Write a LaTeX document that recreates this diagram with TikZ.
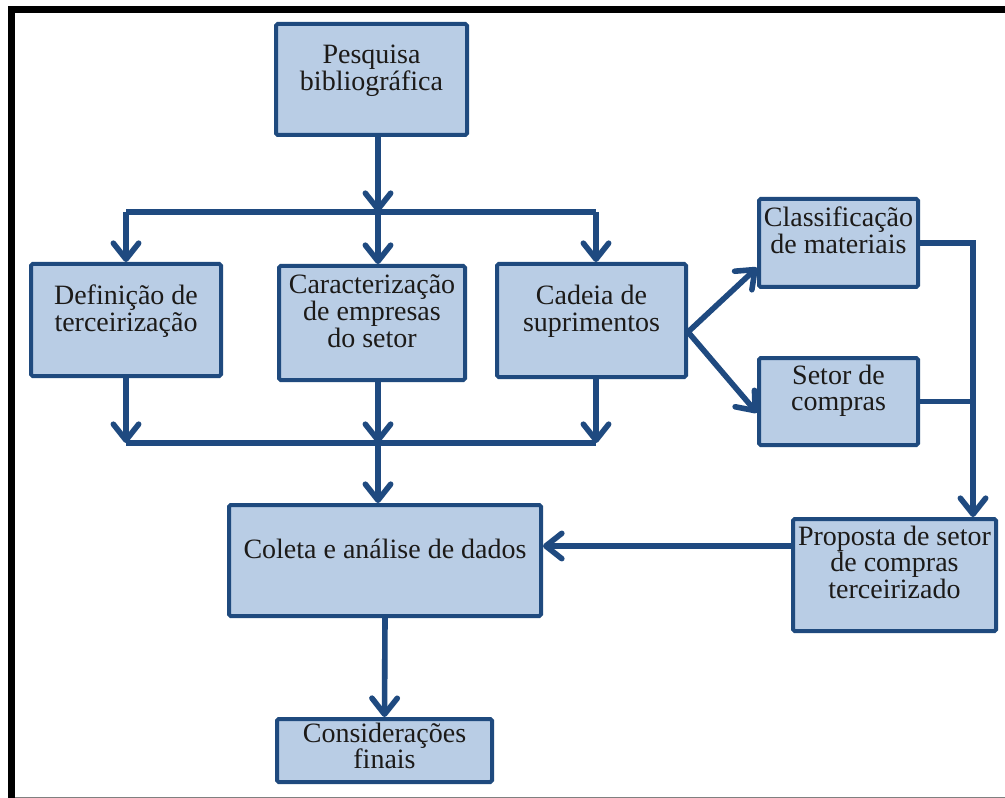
\documentclass[tikz,border=0pt]{standalone}
\usepackage{fontspec}
\setmainfont{Liberation Serif}
\usetikzlibrary{arrows.meta,fit}

\definecolor{boxfill}{HTML}{B9CDE5}
\definecolor{boxline}{HTML}{1F4A7E}
\definecolor{linkblue}{HTML}{1F4A80}
\definecolor{inkdark}{HTML}{1C1A18}

% multi-line label whose reference point is the baseline of its first line
\newcommand{\stackedtext}[1]{\parbox[t]{10cm}{\centering #1\par}}

\tikzset{
  box/.style={draw=boxline, fill=boxfill, line width=3pt, inner sep=0pt,
              rounded corners=1.2pt},
  lbl/.style={anchor=base, inner sep=0pt, text=inkdark,
              font=\fontsize{21}{20}\selectfont},
  conn/.style={draw=linkblue, line width=4.2pt, line join=miter},
  arr/.style={conn, -{Straight Barb[length=12pt,width=19pt,round]}},
}

\begin{document}
\begin{tikzpicture}[x=0.75pt, y=-0.75pt]
\useasboundingbox (0,0) rectangle (1005,798);
\fill[white] (0,0) rectangle (1005,798);

% outer frame
\draw[black, line width=5.25pt] (11.5,798) -- (11.5,10) -- (1005,10);
\draw[gray, line width=0.8pt] (15,797.4) -- (1005,797.4);

% boxes
\node[box, fit={(276,24) (467,135)}]  (pesq)   {};
\node[box, fit={(31,264) (221,376)}]  (defi)   {};
\node[box, fit={(279,266) (465,380)}] (carac)  {};
\node[box, fit={(497,264) (686,377)}] (cadeia) {};
\node[box, fit={(759,199) (918,287)}] (class)  {};
\node[box, fit={(759,358) (918,445)}] (setor)  {};
\node[box, fit={(229,505) (541,616)}] (coleta) {};
\node[box, fit={(793,519) (996,631)}] (prop)   {};
\node[box, fit={(277,719) (492,782)}] (cons)   {};

% labels
\node[lbl] (pesq-t)   at (371.5,64) {\stackedtext{Pesquisa\\bibliográfica}};
\node[lbl] (defi-t)   at (126,305)  {\stackedtext{Definição de\\terceirização}};
\node[lbl] (carac-t)  at (372,294)  {\stackedtext{Caracterização\\de empresas\\do setor}};
\node[lbl] (cadeia-t) at (591.5,305) {\stackedtext{Cadeia de\\suprimentos}};
\node[lbl] (class-t)  at (838.5,227) {\stackedtext{Classificação\\de materiais}};
\node[lbl] (setor-t)  at (838.5,384) {\stackedtext{Setor de\\compras}};
\node[lbl] (coleta-t) at (385,558)  {\stackedtext{Coleta e análise de dados}};
\node[lbl] (prop-t)   at (894.5,545) {\stackedtext{Proposta de setor\\de compras\\terceirizado}};
\node[lbl] (cons-t)   at (384.5,742) {\stackedtext{Considerações\\finais}};

% junction points
\coordinate (tm) at (378,212);
\coordinate (tl) at (126,212);
\coordinate (tr) at (596,212);
\coordinate (bm) at (378,443);
\coordinate (bl) at (126,443);
\coordinate (br) at (596,443);
\coordinate (split) at (688,332);
\coordinate (rc) at (973,243);
\coordinate (mid) at (660,546);

% top distribution
\draw[arr] (pesq.south -| tm) -- (tm);
\draw[conn] (tl) -- (tr);
\draw[arr] (tl) -- (tl |- defi.north);
\draw[arr] (tm) -- (tm |- carac.north);
\draw[arr] (tr) -- (tr |- cadeia.north);

% bottom collection
\draw[arr] (defi.south -| bl) -- (bl);
\draw[arr] (carac.south -| bm) -- (bm);
\draw[arr] (cadeia.south -| br) -- (br);
\draw[conn] (bl) -- (br);
\draw[arr] (bm) -- (bm |- coleta.north);

% supply chain branch
\draw[arr] (split) -- ([yshift=-18.5pt]class.west);
\draw[arr] (split) -- ([yshift=-8.5pt]setor.west);
\draw[arr] (class.east) -- (rc) -- (rc |- prop.north);
\draw[conn] (setor.east) -- (setor.east -| rc);

% towards data analysis and conclusion
\draw[arr] (prop.west |- mid) -- (coleta.east |- mid);
\draw[arr] (coleta.south) -- (cons.north);
\end{tikzpicture}
\end{document}
